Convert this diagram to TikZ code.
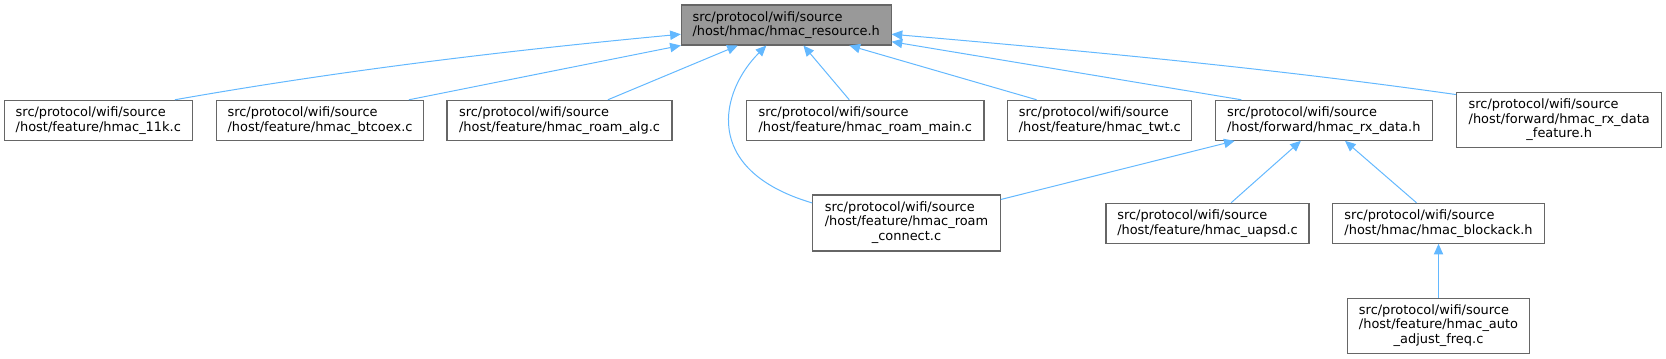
\documentclass[tikz,border=0pt]{standalone}
\usepackage{fontspec}
\setmainfont{DejaVu Sans}
\usetikzlibrary{arrows.meta}
\definecolor{deparrow}{HTML}{63B8FF}
\definecolor{fileline}{HTML}{666666}
\definecolor{rootfill}{HTML}{999999}
\tikzset{
  file/.style={draw=fileline, fill=white, line width=0.8pt,
               font=\fontsize{9.7}{11}\selectfont, align=left,
               inner sep=0pt, minimum height=30pt},
  rootfile/.style={file, fill=rootfill},
  dep/.style={deparrow, line width=0.75pt,
              -{Triangle[length=8pt,width=7pt]}},
}
\newcommand{\lastrow}[1]{\multicolumn{1}{@{}c@{}}{#1}}

\begin{document}
\begin{tikzpicture}[x=0.75pt, y=-0.75pt]
    \useasboundingbox (0,0) rectangle (1666,359);
    % the header everything hangs off
    \node[rootfile, minimum width=157.3pt] (res) at (786.2,25) {src/protocol/wifi/source\\/host/hmac/hmac\_resource.h};
    % first row
    \node[file, minimum width=141pt] (k11) at (98.3,120.3) {src/protocol/wifi/source\\/host/feature/hmac\_11k.c};
    \node[file, minimum width=155pt] (btcoex) at (320,120.3) {src/protocol/wifi/source\\/host/feature/hmac\_btcoex.c};
    \node[file, minimum width=168.75pt] (roamalg) at (559.5,120.3) {src/protocol/wifi/source\\/host/feature/hmac\_roam\_alg.c};
    \node[file, minimum width=178pt] (roammain) at (865.3,120.3) {src/protocol/wifi/source\\/host/feature/hmac\_roam\_main.c};
    \node[file, minimum width=138.2pt] (twt) at (1099.8,120.3) {src/protocol/wifi/source\\/host/feature/hmac\_twt.c};
    \node[file, minimum width=162.5pt] (rxdata) at (1323.7,120.3) {src/protocol/wifi/source\\/host/forward/hmac\_rx\_data.h};
    \node[file, minimum width=154.1pt, minimum height=41pt] (rxfeat) at (1559.2,120.3)
      {\begin{tabular}{@{}l@{}}src/protocol/wifi/source\\/host/forward/hmac\_rx\_data\\\lastrow{\_feature.h}\end{tabular}};
    % second row
    \node[file, minimum width=140.7pt, minimum height=42pt] (roamconn) at (906.5,223)
      {\begin{tabular}{@{}l@{}}src/protocol/wifi/source\\/host/feature/hmac\_roam\\\lastrow{\_connect.c}\end{tabular}};
    \node[file, minimum width=152.25pt] (uapsd) at (1207.5,223.3) {src/protocol/wifi/source\\/host/feature/hmac\_uapsd.c};
    \node[file, minimum width=158.7pt] (blockack) at (1438.5,223.3) {src/protocol/wifi/source\\/host/hmac/hmac\_blockack.h};
    % third row
    \node[file, minimum width=136.2pt, minimum height=41.25pt] (autofreq) at (1438.5,325.8)
      {\begin{tabular}{@{}l@{}}src/protocol/wifi/source\\/host/feature/hmac\_auto\\\lastrow{\_adjust\_freq.c}\end{tabular}};

    % includes of the header
    \draw[dep] (k11.15.8) .. controls +(170,-30) and +(-170,16) .. (res.185.5);
    \draw[dep] (btcoex.13.7) -- (res.191);
    \draw[dep] (roamalg.23.3) -- (res.203.4);
    \draw[dep] (roamconn.168.1) .. controls +(-112.7,-33.3) and +(-45.3,45) .. (res.226.6);
    \draw[dep] (roammain.128.2) -- (res.310.5);
    \draw[dep] (twt.162.2) -- (res.342.6);
    \draw[dep] (rxdata.166.5) -- (res.351.2);
    \draw[dep] (rxfeat.166.1) .. controls +(-190,-27) and +(190,16.5) .. (res.355.3);
    % includes of hmac_rx_data.h
    \draw[dep] (roamconn.14.75) -- (rxdata.193.7);
    \draw[dep] (uapsd.41.6) -- (rxdata.222.8);
    \draw[dep] (blockack.137.5) -- (rxdata.316.2);
    \draw[dep] (autofreq.north) -- (blockack.south);
  \end{tikzpicture}
\end{document}
